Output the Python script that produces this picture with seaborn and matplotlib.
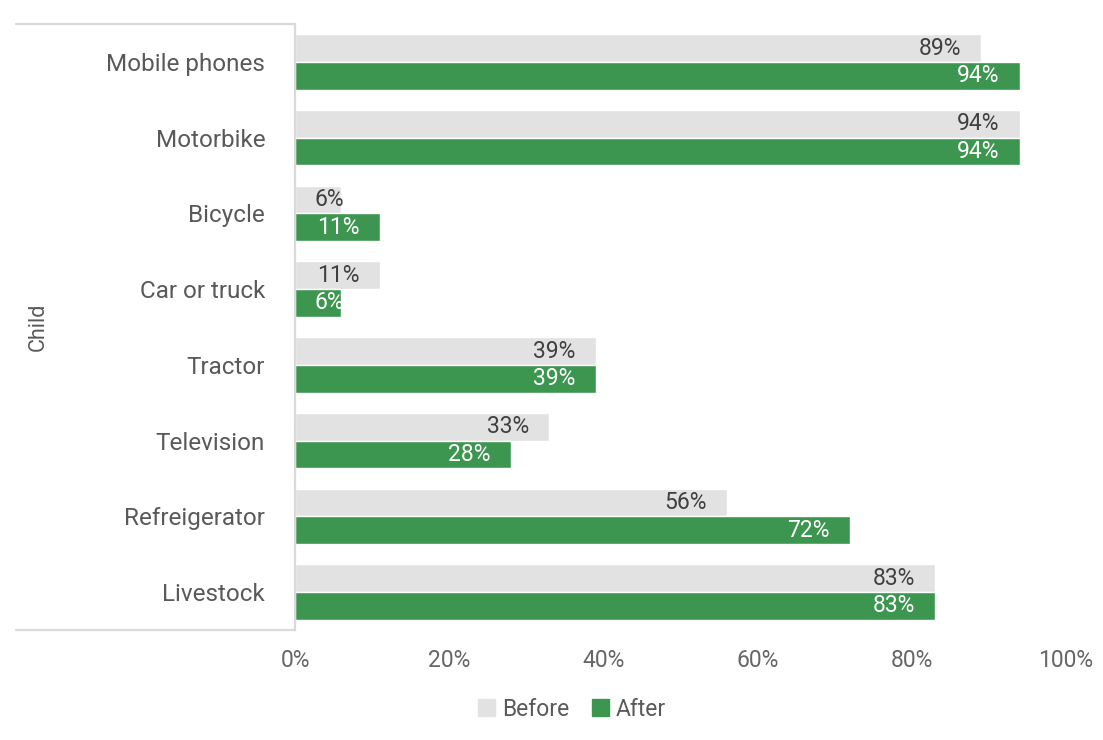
import matplotlib
matplotlib.use("Agg")
import matplotlib.pyplot as plt
from matplotlib.lines import Line2D
from matplotlib.ticker import FuncFormatter
import seaborn as sns
import pandas as pd

# Household assets owned, before and after
categories = ["Mobile phones", "Motorbike", "Bicycle", "Car or truck",
              "Tractor", "Television", "Refreigerator", "Livestock"]
before = [0.89, 0.94, 0.06, 0.11, 0.39, 0.33, 0.56, 0.83]
after = [0.94, 0.94, 0.11, 0.06, 0.39, 0.28, 0.72, 0.83]
series = ["Before", "After"]
colors = {"Before": "#E2E2E2", "After": "#3D9650"}
group_label = "Child"

df = pd.DataFrame({
    "category": categories * 2,
    "value": before + after,
    "series": ["Before"] * len(categories) + ["After"] * len(categories),
})

sns.set_theme(style="white")
plt.rcParams["font.family"] = ["Roboto", "DejaVu Sans"]

W, H, DPI = 1103, 740, 100
fig = plt.figure(figsize=(W / DPI, H / DPI), dpi=DPI)
ax = fig.add_axes([295 / W, 1 - 630 / H, (1066 - 295) / W, (630 - 24) / H])

sns.barplot(data=df, y="category", x="value", hue="series", order=categories,
            hue_order=series, palette=colors, orient="h", width=0.73,
            saturation=1, ax=ax, legend=False)

ax.set_xlim(0, 1)
ax.set_ylim(len(categories) - 0.5, -0.5)
ax.set_xticks([0, 0.2, 0.4, 0.6, 0.8, 1.0])
ax.xaxis.set_major_formatter(FuncFormatter(lambda v, _: f"{v * 100:.0f}%"))
ax.tick_params(axis="x", length=0, pad=14, labelsize=16.5, labelcolor="#666666")
ax.tick_params(axis="y", length=0, pad=21.5, labelsize=17.5, labelcolor="#595959")
ax.set_xlabel("")
ax.set_ylabel("")

for side in ["top", "right", "bottom"]:
    ax.spines[side].set_visible(False)
ax.spines["left"].set_color("#D9D9D9")
ax.spines["left"].set_linewidth(1.6)

# frame lines around the category column
x0 = (16 - 295) / (1066 - 295)
for yv in (0, 1):
    ax.add_line(Line2D([x0, 0], [yv, yv], transform=ax.transAxes,
                       color="#D9D9D9", lw=1.6, clip_on=False))

fig.text(38 / W, 1 - 327 / H, group_label, rotation=90, ha="center", va="center",
         fontsize=15.5, color="#595959")

# value labels at the inside end of each bar
px_per_unit = (1066 - 295)
pad_px = 20
for cont, name, vals in zip(ax.containers, series, [before, after]):
    tcolor = "#404040" if name == "Before" else "white"
    for bar, v in zip(cont, vals):
        yc = bar.get_y() + bar.get_height() / 2
        label = f"{v * 100:.0f}%"
        text_w = 13 * len(label)
        if v * px_per_unit < text_w + 2 * pad_px:
            ax.annotate(label, (0, yc), xytext=(pad_px * 0.72, 0),
                        textcoords="offset points", ha="left", va="center",
                        fontsize=16.5, color=tcolor)
        else:
            ax.annotate(label, (v, yc), xytext=(-pad_px * 0.72, 0),
                        textcoords="offset points", ha="right", va="center",
                        fontsize=16.5, color=tcolor)

handles = [plt.Rectangle((0, 0), 1, 1, color=colors[s]) for s in series]
fig.legend(handles, series, loc="center", bbox_to_anchor=(572 / W, 1 - 709 / H),
           ncol=2, frameon=False, fontsize=16.5, handlelength=0.75, handleheight=0.75,
           handletextpad=0.3, columnspacing=1.0, labelcolor="#595959")

fig.savefig("out.png", dpi=DPI)
